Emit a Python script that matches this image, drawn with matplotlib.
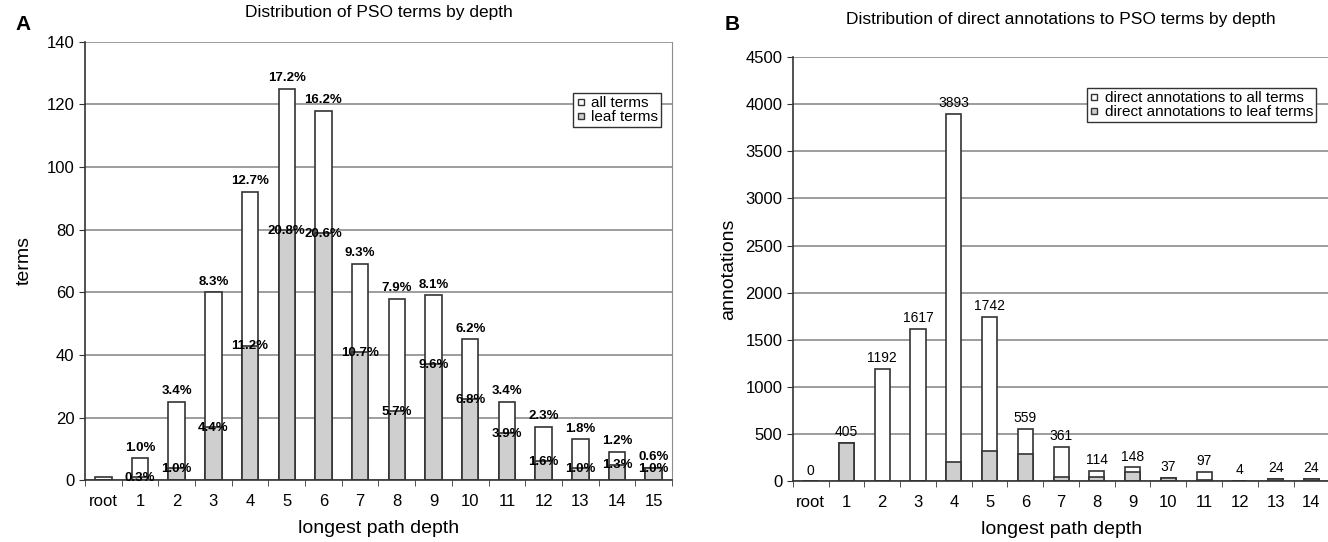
import numpy as np
import matplotlib.pyplot as plt
from matplotlib.lines import Line2D

plt.rcParams['font.family'] = ['Liberation Sans', 'DejaVu Sans']

# panel A data
depths_a = ['root', '1', '2', '3', '4', '5', '6', '7', '8', '9', '10', '11', '12', '13', '14', '15']
all_terms = [1, 7, 25, 60, 92, 125, 118, 69, 58, 59, 45, 25, 17, 13, 9, 4]
leaf_terms = [0, 1, 4, 17, 43, 80, 79, 41, 22, 37, 26, 15, 6, 4, 5, 4]
pct_all = ['', '1.0%', '3.4%', '8.3%', '12.7%', '17.2%', '16.2%', '9.3%', '7.9%',
           '8.1%', '6.2%', '3.4%', '2.3%', '1.8%', '1.2%', '0.6%']
pct_leaf = ['', '0.3%', '1.0%', '4.4%', '11.2%', '20.8%', '20.6%', '10.7%', '5.7%',
            '9.6%', '6.8%', '3.9%', '1.6%', '1.0%', '1.3%', '1.0%']

# panel B data
depths_b = ['root', '1', '2', '3', '4', '5', '6', '7', '8', '9', '10', '11', '12', '13', '14']
ann_all = [0, 405, 1192, 1617, 3893, 1742, 559, 361, 114, 148, 37, 97, 4, 24, 24]
ann_leaf = [0, 405, 0, 8, 207, 322, 286, 46, 46, 100, 37, 10, 4, 24, 24]

GRAY = '#cfcfcf'
EDGE = '#333333'
GRID = '#8c8c8c'


def style_axes(ax, n, ymax, ystep):
    ax.set_xlim(-0.5, n - 0.5)
    ax.set_ylim(0, ymax)
    ax.set_yticks(np.arange(0, ymax + 1, ystep))
    ax.yaxis.grid(True, color=GRID, linewidth=1.2)
    ax.set_axisbelow(True)
    ax.spines['top'].set_visible(False)
    ax.spines['right'].set_color(GRID)
    ax.spines['left'].set_color(EDGE)
    ax.spines['bottom'].set_color(EDGE)
    ax.spines['left'].set_linewidth(1.2)
    ax.spines['bottom'].set_linewidth(1.2)
    ax.set_xticks(np.arange(n))
    ax.set_xticks(np.arange(n + 1) - 0.5, minor=True)
    ax.tick_params(axis='x', which='major', length=0, labelsize=12, pad=10)
    ax.tick_params(axis='x', which='minor', length=4, color=EDGE)
    ax.tick_params(axis='y', length=4, labelsize=12, color=EDGE)


fig = plt.figure(figsize=(13.28, 5.42), dpi=100)

# ---- A
ax1 = fig.add_axes([0.064, 0.114, 0.442, 0.809])
x = np.arange(len(depths_a))
ax1.bar(x, all_terms, width=0.45, color='white', edgecolor=EDGE, linewidth=1.2)
ax1.bar(x, leaf_terms, width=0.45, color=GRAY, edgecolor=EDGE, linewidth=1.2)
for i in range(len(x)):
    if pct_all[i]:
        ax1.text(x[i], all_terms[i] + 1.5, pct_all[i], ha='center', va='bottom',
                 fontsize=9.5, fontweight='bold')
    if pct_leaf[i]:
        ax1.text(x[i], leaf_terms[i] - 0.3, pct_leaf[i], ha='center', va='center',
                 fontsize=9.5, fontweight='bold')
style_axes(ax1, len(depths_a), 140, 20)
ax1.set_xticklabels(depths_a)
ax1.set_ylabel('terms', fontsize=14, labelpad=10)
ax1.set_xlabel('longest path depth', fontsize=14, labelpad=8)
ax1.set_title('Distribution of PSO terms by depth', fontsize=12.5, pad=18)
h1 = [Line2D([], [], marker='s', ls='', markersize=5, markerfacecolor='white', markeredgecolor=EDGE),
      Line2D([], [], marker='s', ls='', markersize=5, markerfacecolor=GRAY, markeredgecolor=EDGE)]
leg1 = ax1.legend(h1, ['all terms', 'leaf terms'], loc='upper right', bbox_to_anchor=(0.995, 0.9),
                  fontsize=11, handlelength=0.6, handletextpad=0.4, borderpad=0.2,
                  labelspacing=0.0, fancybox=False, framealpha=1, edgecolor=EDGE)
leg1.get_frame().set_linewidth(1.0)

# ---- B
ax2 = fig.add_axes([0.597, 0.112, 0.404, 0.783])
x2 = np.arange(len(depths_b))
ax2.bar(x2, ann_all, width=0.42, color='white', edgecolor=EDGE, linewidth=1.2)
ax2.bar(x2, ann_leaf, width=0.42, color=GRAY, edgecolor=EDGE, linewidth=1.2)
for i in range(len(x2)):
    ax2.text(x2[i], ann_all[i] + 40, str(ann_all[i]), ha='center', va='bottom', fontsize=10)
style_axes(ax2, len(depths_b), 4500, 500)
ax2.set_xticklabels(depths_b)
ax2.set_ylabel('annotations', fontsize=14, labelpad=6)
ax2.set_xlabel('longest path depth', fontsize=14, labelpad=8)
ax2.set_title('Distribution of direct annotations to PSO terms by depth', fontsize=12.5, pad=24)
leg2 = ax2.legend(h1, ['direct annotations to all terms', 'direct annotations to leaf terms'],
                  loc='upper right', bbox_to_anchor=(0.99, 0.945),
                  fontsize=11, handlelength=0.6, handletextpad=0.4, borderpad=0.2,
                  labelspacing=0.0, fancybox=False, framealpha=1, edgecolor=EDGE)
leg2.get_frame().set_linewidth(1.0)

fig.text(0.012, 0.955, 'A', fontsize=15, fontweight='bold', va='center')
fig.text(0.546, 0.955, 'B', fontsize=15, fontweight='bold', va='center')

fig.savefig('out.png', dpi=100)
